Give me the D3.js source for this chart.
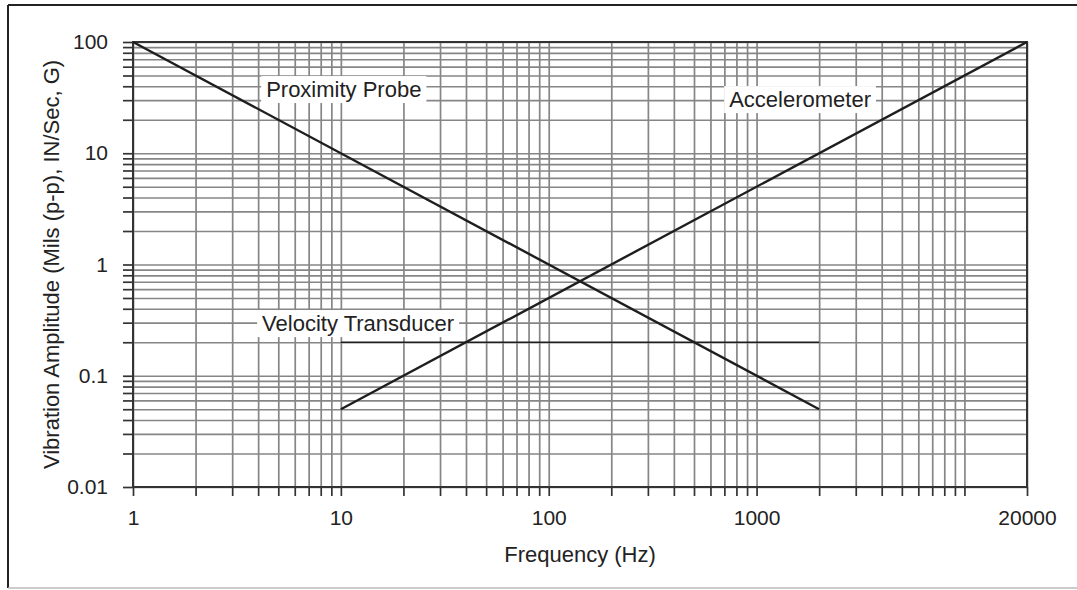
<!DOCTYPE html>
<html>
<head>
<meta charset="utf-8">
<script src="https://cdn.jsdelivr.net/npm/d3@7"></script>
<style>
  html, body { margin: 0; padding: 0; background: #fff; }
  svg { display: block; font-family: "Liberation Sans", Arial, Helvetica, sans-serif; }
</style>
</head>
<body>
<svg id="chart" width="1077" height="590"></svg>
<script>
// Frequency range and the labelled ticks on each axis
const xDomain = [1, 20000];
const yDomain = [0.01, 100];
const xTickLabels = [1, 10, 100, 1000, 20000];
const yTickLabels = [0.01, 0.1, 1, 10, 100];

// Usable range of each transducer type: [frequency (Hz), amplitude]
const proximityProbe = [[1, 100], [2000, 0.05]];
const accelerometer = [[10, 0.05], [20000, 100]];
const velocityTransducer = [[10, 0.2], [2000, 0.2]];

// Curve labels: text, anchor point [frequency, amplitude]
const curveLabels = [
  { text: "Proximity Probe", at: [4.37, 32] },
  { text: "Accelerometer", at: [738, 26] },
  { text: "Velocity Transducer", at: [4.18, 0.252] }
];

const svg = d3.select("#chart");
const W = 1077, H = 590;
const m = { left: 133, right: 1027, top: 42, bottom: 487 };

// Outer frame
svg.append("line").attr("x1", 8).attr("x2", W).attr("y1", 5).attr("y2", 5)
  .attr("stroke", "#222").attr("stroke-width", 2);
svg.append("line").attr("x1", 8).attr("x2", 8).attr("y1", 5).attr("y2", 588)
  .attr("stroke", "#222").attr("stroke-width", 2);
svg.append("line").attr("x1", 8).attr("x2", W).attr("y1", 588).attr("y2", 588)
  .attr("stroke", "#bbb").attr("stroke-width", 1.5);

const x = d3.scaleLog().domain(xDomain).range([m.left, m.right]);
const y = d3.scaleLog().domain(yDomain).range([m.bottom, m.top]);
const plotH = m.bottom - m.top, plotW = m.right - m.left;

const gridColor = "#868686";

// Vertical grid lines at every 1-9 multiple
const xGrid = svg.append("g")
  .attr("transform", `translate(0,${m.bottom})`)
  .call(d3.axisBottom(x).tickValues(x.ticks()).tickSize(-plotH).tickFormat(""));
xGrid.select(".domain").remove();
xGrid.selectAll(".tick line").attr("stroke", gridColor).attr("stroke-width", 1.7);

// Horizontal grid lines
const yGrid = svg.append("g")
  .attr("transform", `translate(${m.left},0)`)
  .call(d3.axisLeft(y).tickValues(y.ticks()).tickSize(-plotW).tickFormat(""));
yGrid.select(".domain").remove();
yGrid.selectAll(".tick line").attr("stroke", gridColor).attr("stroke-width", 1.7);

// Outside tick marks and labels
const fmt = d => (d >= 1 ? d3.format("d")(d) : String(d));
const xAxis = svg.append("g")
  .attr("transform", `translate(0,${m.bottom})`)
  .call(d3.axisBottom(x).tickValues(x.ticks()).tickSize(9).tickPadding(14)
    .tickFormat(d => xTickLabels.includes(d) ? fmt(d) : ""));
xAxis.select(".domain").remove();
xAxis.selectAll(".tick line").attr("stroke", "#333").attr("stroke-width", 1.7);
xAxis.selectAll(".tick text").attr("fill", "#222").attr("font-size", 21)
  .attr("font-family", "Liberation Sans, Arial, sans-serif");

const yAxis = svg.append("g")
  .attr("transform", `translate(${m.left},0)`)
  .call(d3.axisLeft(y).tickValues(y.ticks()).tickSize(10).tickPadding(15)
    .tickFormat(d => yTickLabels.includes(d) ? fmt(d) : ""));
yAxis.select(".domain").remove();
yAxis.selectAll(".tick line").attr("stroke", "#333").attr("stroke-width", 1.7);
yAxis.selectAll(".tick text").attr("fill", "#222").attr("font-size", 21)
  .attr("font-family", "Liberation Sans, Arial, sans-serif");

// Plot border
svg.append("rect").attr("x", m.left).attr("y", m.top)
  .attr("width", plotW).attr("height", plotH)
  .attr("fill", "none").attr("stroke", "#333").attr("stroke-width", 2);

// Transducer ranges
const line = d3.line().x(d => x(d[0])).y(d => y(d[1]));
[proximityProbe, accelerometer].forEach(s => {
  svg.append("path").attr("d", line(s)).attr("fill", "none")
    .attr("stroke", "#1e1e1e").attr("stroke-width", 2.4);
});
svg.append("path").attr("d", line(velocityTransducer)).attr("fill", "none")
  .attr("stroke", "#1e1e1e").attr("stroke-width", 1.6);

// Curve labels on white patches
curveLabels.forEach(l => {
  const g = svg.append("g");
  const bg = g.append("rect").attr("fill", "#fff");
  const t = g.append("text").attr("x", x(l.at[0])).attr("y", y(l.at[1]))
    .attr("font-size", 22).attr("fill", "#222").text(l.text);
  const b = t.node().getBBox();
  bg.attr("x", b.x - 5).attr("y", b.y - 1).attr("width", b.width + 10).attr("height", b.height + 2);
});

// Axis titles
svg.append("text").attr("x", (m.left + m.right) / 2).attr("y", 562)
  .attr("text-anchor", "middle").attr("font-size", 22).attr("fill", "#222")
  .text("Frequency (Hz)");
svg.append("text")
  .attr("transform", `translate(59,${(m.top + m.bottom) / 2}) rotate(-90)`)
  .attr("text-anchor", "middle").attr("font-size", 22).attr("fill", "#222")
  .text("Vibration Amplitude (Mils (p-p), IN/Sec, G)");
</script>
</body>
</html>
